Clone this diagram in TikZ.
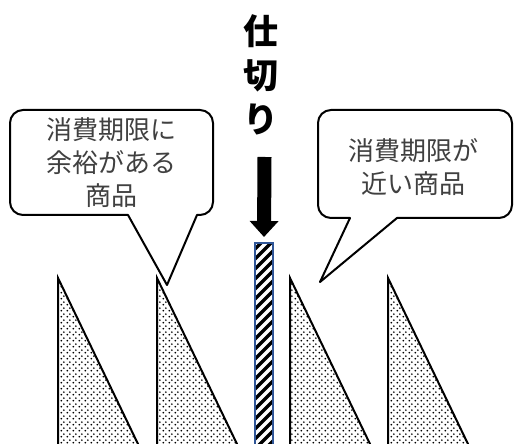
\documentclass[tikz,border=0pt]{standalone}
\usepackage{fontspec}
\newfontfamily\jp{Noto Sans CJK JP}
\usetikzlibrary{arrows.meta,patterns.meta}
\definecolor{txtgray}{HTML}{404040}
\definecolor{barblue}{HTML}{2F5597}
\tikzdeclarepattern{
  name=mydots,
  type=uncolored,
  bottom left={(0pt,0pt)},
  top right={(6pt,6pt)},
  tile size={(6pt,6pt)},
  code={\fill (1.5pt,1.5pt) circle (1.1pt); \fill (4.5pt,4.5pt) circle (1.1pt);}
}
\tikzset{
  callout/.style={draw=black, line width=2pt, fill=white, line join=round},
  callouttext/.style={font=\jp\fontsize{26pt}{33pt}\selectfont, text=txtgray, align=center, inner sep=0pt},
  wedge/.style={draw=black, line width=2pt, pattern=mydots, pattern color=black, line join=miter},
  partition/.style={font=\jp\bfseries\fontsize{35pt}{44pt}\selectfont, align=center, inner sep=0pt}
}
\begin{document}
\begin{tikzpicture}[x=1pt,y=1pt]
\useasboundingbox (0,0) rectangle (514,444);
\clip (0,0) rectangle (514,444);
% triangles
\foreach \xo in {58,157,290,388}{
  \draw[wedge] (\xo,166) -- (\xo,-20) -- ({\xo+80*186/166},-20) -- cycle;
}
% partition bar
\node[draw=none, minimum width=18pt, minimum height=210pt, inner sep=0pt, anchor=north] (bar) at (264,201) {};
\begin{scope}
  \clip (255,-10) rectangle (273,201);
  \foreach \i in {-40,-30,...,220}{
    \draw[line width=3.2pt] (250,\i) -- (278,\i+28);
  }
\end{scope}
\draw[barblue, line width=1.5pt] (255,-10) rectangle (273,201);
% title and arrow
\node[partition] (title) at (261,369) {仕\\切\\り};
\coordinate (arrtop) at (264.5,287);
\draw[line width=14pt, -{Triangle[length=16pt,width=28pt]}] (arrtop) -- ([yshift=6pt]bar.north);
% left callout
\draw[callout] (128,229) -- (23,229) arc[start angle=270, end angle=180, radius=13pt]
  -- (10,321) arc[start angle=180, end angle=90, radius=13pt]
  -- (200,334) arc[start angle=90, end angle=0, radius=13pt]
  -- (213,242) arc[start angle=0, end angle=-90, radius=13pt]
  -- (197,229) -- (167,159) -- cycle;
\node[callouttext] (lefttext) at (111.5,281) {消費期限に\\余裕がある\\商品};
% right callout
\draw[callout] (397,226) -- (499,226) arc[start angle=-90, end angle=0, radius=13pt]
  -- (512,321) arc[start angle=0, end angle=90, radius=13pt]
  -- (331,334) arc[start angle=90, end angle=180, radius=13pt]
  -- (318,239) arc[start angle=180, end angle=270, radius=13pt]
  -- (350,226) -- (320,162) -- cycle;
\node[callouttext] (righttext) at (413,277) {消費期限が\\近い商品};
\end{tikzpicture}
\end{document}
